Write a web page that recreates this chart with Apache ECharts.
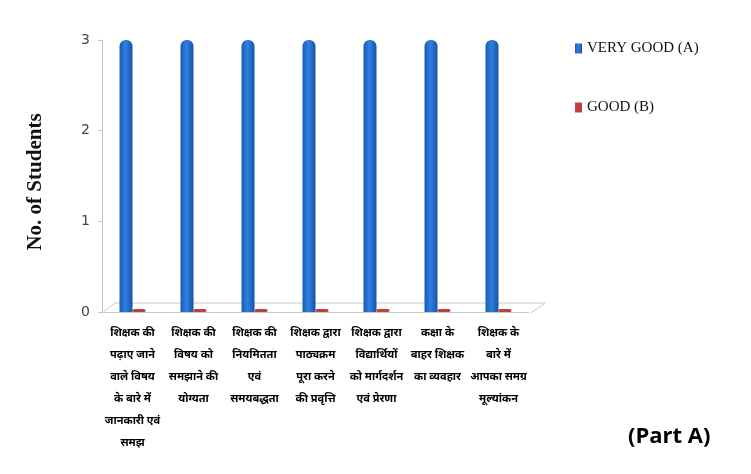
<!DOCTYPE html>
<html>
<head>
<meta charset="utf-8">
<script src="https://cdn.jsdelivr.net/npm/echarts@6/dist/echarts.min.js"></script>
<style>
  html, body { margin: 0; padding: 0; background: #fff; }
  #chart { width: 751px; height: 474px; }
</style>
</head>
<body>
<div id="chart"></div>
<script>
// categories (x axis labels)
var categories = [
    'शिक्षक की\nपढ़ाए जाने\nवाले विषय\nके बारे में\nजानकारी एवं\nसमझ',
    'शिक्षक की\nविषय को\nसमझाने की\nयोग्यता',
    'शिक्षक की\nनियमितता\nएवं\nसमयबद्धता',
    'शिक्षक द्वारा\nपाठ्यक्रम\nपूरा करने\nकी प्रवृत्ति',
    'शिक्षक द्वारा\nविद्यार्थियों\nको मार्गदर्शन\nएवं प्रेरणा',
    'कक्षा के\nबाहर शिक्षक\nका व्यवहार',
    'शिक्षक के\nबारे में\nआपका समग्र\nमूल्यांकन'
];
var veryGood = [3, 3, 3, 3, 3, 3, 3];
var good = [0, 0, 0, 0, 0, 0, 0];
var yTicks = [0, 1, 2, 3];

var chart = echarts.init(document.getElementById('chart'));

var option = {
    animation: false,
    backgroundColor: '#fff',
    grid: {
        left: 102,
        top: 40,
        right: 222,
        bottom: 162
    },
    legend: {
        orient: 'vertical',
        left: 570,
        top: 36,
        itemGap: 44,
        itemWidth: 7,
        itemHeight: 10,
        icon: 'rect',
        data: ['VERY GOOD (A)', 'GOOD (B)'],
        textStyle: {
            fontFamily: 'Liberation Serif',
            fontSize: 15,
            color: '#111'
        }
    },
    xAxis: {
        type: 'category',
        data: categories,
        axisLine: { lineStyle: { color: '#c8c8c8' } },
        axisTick: { show: false },
        axisLabel: {
            interval: 0,
            margin: 10,
            fontFamily: 'Noto Sans, sans-serif',
            fontWeight: 'bold',
            fontSize: 11,
            lineHeight: 22,
            color: '#000'
        }
    },
    yAxis: {
        type: 'value',
        min: yTicks[0],
        max: yTicks[yTicks.length - 1],
        interval: 1,
        name: 'No. of Students',
        nameLocation: 'middle',
        nameGap: 56,
        nameRotate: 90,
        nameTextStyle: {
            fontFamily: 'Liberation Serif',
            fontWeight: 'bold',
            fontSize: 21,
            color: '#111',
            padding: [0, 12, 0, 0]
        },
        axisLine: { show: true, lineStyle: { color: '#c8c8c8' } },
        axisTick: { show: true, length: 4, lineStyle: { color: '#c8c8c8' } },
        splitLine: { show: false },
        axisLabel: {
            margin: 12,
            fontFamily: 'DejaVu Sans',
            fontSize: 14,
            color: '#444'
        }
    },
    series: [
        {
            name: 'VERY GOOD (A)',
            type: 'bar',
            data: veryGood,
            barWidth: 13,
            barGap: '0%',
            itemStyle: {
                borderRadius: [6, 6, 0, 0],
                color: new echarts.graphic.LinearGradient(0, 0, 1, 0, [
                    { offset: 0, color: '#175bb5' },
                    { offset: 0.45, color: '#2f80e0' },
                    { offset: 1, color: '#1553a8' }
                ])
            }
        },
        {
            name: 'GOOD (B)',
            type: 'bar',
            data: good,
            barWidth: 13,
            barMinHeight: 3,
            itemStyle: {
                borderRadius: 3,
                color: '#c0413a'
            }
        }
    ],
    graphic: [
        {
            type: 'polyline',
            shape: { points: [[102, 313], [115, 303], [545, 303], [531, 313]] },
            style: { stroke: '#c8c8c8', fill: null, lineWidth: 1 }
        },
        {
            type: 'text',
            left: 628,
            top: 426,
            style: {
                text: '(Part A)',
                fontFamily: 'Open Sans',
                fontWeight: 'bold',
                fontSize: 22,
                fill: '#000'
            }
        }
    ]
};

chart.setOption(option);
</script>
</body>
</html>
